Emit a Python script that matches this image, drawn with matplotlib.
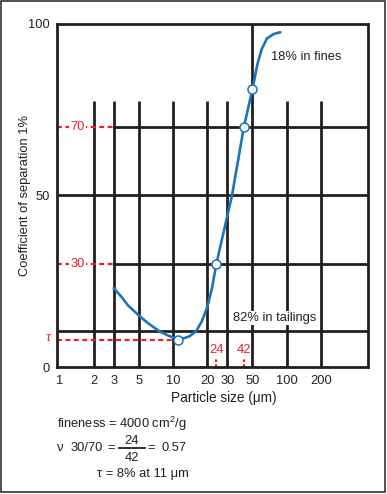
import matplotlib
matplotlib.use("Agg")
import matplotlib.pyplot as plt
from matplotlib.patches import Rectangle
from matplotlib.lines import Line2D
import matplotlib.transforms as mtransforms

plt.rcParams['font.family'] = ['Liberation Sans', 'DejaVu Sans']
plt.rcParams['mathtext.default'] = 'regular'

# ---- data ----
curve_x = [3, 3.5, 4, 5, 6, 7.5, 9, 10, 11, 12.5, 14, 16, 18, 20, 22, 24, 33, 42, 50, 55, 60, 67, 77, 88]
curve_y = [23, 20.5, 18, 15, 12.8, 10.5, 9.2, 8.6, 8.3, 8.4, 9.0, 10.5, 13.5, 17.5, 23, 30, 50, 70, 81, 88, 92.5, 95.8, 97.1, 97.6]
marker_x = [11, 24, 42, 50]
marker_y = [8, 30, 70, 81]
vgrid_short = [2, 3, 5, 10, 20, 30, 100, 200]
vgrid_full = [50]
xticks = [1, 2, 3, 5, 10, 20, 30, 50, 100, 200]
xtick_labels = ['1', '2', '3', '5', '10', '20', '30', '50', '100', '200']
yticks = [0, 50, 100]
d30, d70 = 24, 42
tau = 8
tau_x = 11

BLACK = '#231f20'
BLUE = '#1b74bc'
RED = '#e8202a'
W, H = 387, 494
FS = 9.3

fig = plt.figure(figsize=(W / 100, H / 100), dpi=100)
fig.patches.append(Rectangle((1 / W, 1 - 492 / H), 384 / W, 491 / H, transform=fig.transFigure,
                             fill=False, edgecolor=BLACK, linewidth=1.1))

ax = fig.add_axes([57 / W, 127 / H, 311 / W, 343 / H])
XMIN, XMAX = 0.95, 520
ax.set_xscale('log')
ax.set_xlim(XMIN, XMAX)
ax.set_ylim(0, 100)
for s in ax.spines.values():
    s.set_linewidth(2.0)
    s.set_color(BLACK)

glw = 2.0
for v in vgrid_short:
    ax.plot([v, v], [0, 77.5], color=BLACK, lw=glw, solid_capstyle='butt')
for v in vgrid_full:
    ax.plot([v, v], [0, 100], color=BLACK, lw=glw, solid_capstyle='butt')
ax.plot([XMIN, XMAX], [50, 50], color=BLACK, lw=glw)
ax.plot([XMIN, XMAX], [10.5, 10.5], color=BLACK, lw=glw)
for yv in [70, 30]:
    ax.plot([3, XMAX], [yv, yv], color=BLACK, lw=glw)
    ax.plot([XMIN, 3], [yv, yv], color=RED, lw=1.6, linestyle=(0, (2.2, 1.6)))
    ax.text(1.44, yv, str(yv), color=RED, fontsize=FS, ha='center', va='center',
            bbox=dict(facecolor='white', edgecolor='none', pad=1.0))
ax.plot([XMIN, tau_x], [tau, tau], color=RED, lw=1.6, linestyle=(0, (2.2, 1.6)))
trans = mtransforms.blended_transform_factory(ax.transAxes, ax.transData)
ax.text(-9 / 311, tau + 0.5, 'τ', transform=trans, color=RED, fontsize=10.5, ha='center', va='center',
        family=['Liberation Serif', 'DejaVu Serif'], style='italic', clip_on=False)

for dv in [d30, d70]:
    ax.plot([dv, dv], [0, 2.7], color=RED, lw=1.6, linestyle=(0, (1.2, 1.0)))
    ax.text(dv, 5.0, str(dv), color=RED, fontsize=FS, ha='center', va='center')

ax.plot(curve_x, curve_y, color=BLUE, lw=1.9, solid_capstyle='round', solid_joinstyle='round', zorder=5)
ax.plot(marker_x, marker_y, linestyle='none', marker='o', markersize=6.5, markerfacecolor='white',
        markeredgecolor=BLUE, markeredgewidth=1.1, zorder=6)

ax.text(72.7, 90.5, '18% in fines', fontsize=FS, ha='left', va='center', color=BLACK)
ax.text(33.8, 14.3, '82% in tailings', fontsize=FS, ha='left', va='center', color=BLACK,
        bbox=dict(facecolor='white', edgecolor='none', pad=1.0), zorder=4)

ax.set_xticks(xticks)
ax.set_xticklabels(xtick_labels)
ax.xaxis.set_minor_locator(matplotlib.ticker.NullLocator())
ax.set_yticks(yticks)
ax.set_yticklabels([str(t) for t in yticks])
ax.tick_params(axis='both', length=0, labelsize=FS, colors=BLACK)
ax.tick_params(axis='x', pad=5.5)
ax.tick_params(axis='y', pad=5)

fig.text(224 / W, 1 - 398 / H, 'Particle size (μm)', fontsize=9.8, ha='center', va='center', color=BLACK)
fig.text(25 / W, 1 - 196 / H, 'Coefficient of separation 1%', fontsize=9.3, rotation=90,
         ha='center', va='center', color=BLACK)

fig.text(57 / W, 1 - 424 / H, 'fineness = 4000 cm$^{2}$/g', fontsize=FS, ha='left', va='center', color=BLACK)
fig.text(57 / W, 1 - 448 / H, 'ν', fontsize=FS, ha='left', va='center', color=BLACK)
fig.text(71 / W, 1 - 448 / H, '30/70', fontsize=FS, ha='left', va='center', color=BLACK)
fig.text(111 / W, 1 - 448 / H, '=', fontsize=FS, ha='center', va='center', color=BLACK)
fig.text(132 / W, 1 - 441 / H, '24', fontsize=FS, ha='center', va='center', color=BLACK)
fig.text(132 / W, 1 - 458 / H, '42', fontsize=FS, ha='center', va='center', color=BLACK)
fig.add_artist(Line2D([119 / W, 145 / W], [1 - 448 / H, 1 - 448 / H], transform=fig.transFigure,
                      color=BLACK, lw=1.3))
fig.text(151 / W, 1 - 448 / H, '=', fontsize=FS, ha='center', va='center', color=BLACK)
fig.text(162 / W, 1 - 448 / H, '0.57', fontsize=FS, ha='left', va='center', color=BLACK)
fig.text(97 / W, 1 - 474 / H, 'τ = 8% at 11 μm', fontsize=FS, ha='left', va='center', color=BLACK)

fig.savefig('out.png', dpi=100)
